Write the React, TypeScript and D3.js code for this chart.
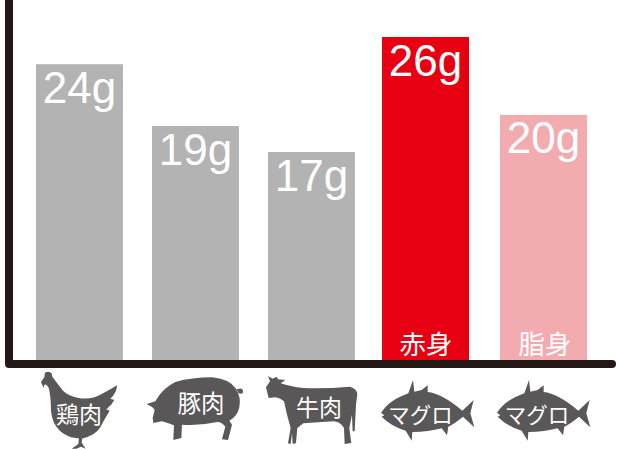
import React from "react";
import * as d3 from "d3";

const valueLabels = ["24g", "19g", "17g", "26g", "20g"];
const values = [24.0, 19.0, 16.9, 26.2, 19.9];
const colors = ["#b3b3b3", "#b3b3b3", "#b3b3b3", "#e60012", "#f2abae"];
const barLefts = [36, 152, 268, 382, 500];
const innerLabels = ["", "", "", "赤身", "脂身"];
const iconLabels = ["鶏肉", "豚肉", "牛肉", "マグロ", "マグロ"];
const iconLabelX = [79, 201, 319, 420.5, 537];
const iconLabelY = [423, 412, 416, 423, 423];
const iconLabelSize = [23, 23.5, 23, 21.5, 21.5];

const chicken = "M18,42 L28,28 L30,14 Q42,8 50,16 L52,26 Q64,42 84,68 Q100,84 130,90 Q170,96 200,78 Q228,64 246,52 Q246,74 226,92 L238,96 Q230,112 214,124 L224,128 Q210,150 196,178 Q180,204 140,212 Q100,212 76,190 Q52,168 48,130 Q48,90 42,62 Q36,48 28,50 L26,60 Z M132,210 L142,210 L140,224 L152,242 L138,236 L124,242 L110,242 L130,228 Z";
const pig = "M14,108 L40,100 Q62,60 100,42 Q150,28 210,28 Q260,32 282,62 Q298,88 292,118 Q286,146 262,158 L270,170 L258,216 L240,214 L250,176 Q240,162 226,162 Q170,174 120,170 L118,210 L94,216 L96,172 Q76,165 60,160 L34,165 L32,150 L38,125 Q30,115 14,108 Z M284,64 L292,62 A7,7 0 1 1 298,77 L290,76 Z";
const cow = "M18,58 L30,40 L24,24 L38,32 L50,26 L54,34 L76,36 L62,46 Q90,56 130,60 Q200,62 270,56 Q290,62 292,78 L288,110 L284,190 L278,190 L276,140 L268,180 L274,225 L254,228 L252,180 Q240,160 220,160 L130,166 L112,180 L108,225 L98,228 L96,195 L92,228 L84,226 L92,180 Q80,140 72,100 Q60,90 46,88 L26,90 Z";
const fish = "M18,128 Q40,95 80,78 L100,70 L114,30 L118,65 L140,60 L158,46 L158,66 Q200,70 262,122 L296,90 L286,130 L298,172 L264,140 Q240,160 220,170 L216,196 L200,175 Q160,186 112,186 L110,212 L92,182 Q50,170 20,140 L28,136 Z";

const y = d3.scaleLinear().domain([0, 26.2]).range([361, 37]);
const ICON = "#595757";
const CJK = "'Noto Sans CJK JP', sans-serif";

export default function App() {
  return (
    <svg width={619} height={449} style={{ position: "fixed", left: 0, top: 0 }}>
      <rect width={619} height={449} fill="#fff" />
      {values.map((v, i) => (
        <g key={i}>
          <rect x={barLefts[i]} y={y(v)} width={87} height={y(0) - y(v)} fill={colors[i]} />
          <text x={barLefts[i] + 43.5} y={y(v) + 38.5} textAnchor="middle" fill="#fff" fontSize={44}
            fontFamily="'Liberation Sans', Arial, sans-serif">{valueLabels[i]}</text>
          {innerLabels[i] && (
            <text x={barLefts[i] + (i === 4 ? 45 : 44)} y={354} textAnchor="middle" fill="#fff" fontSize={26.5} fontFamily={CJK}>{innerLabels[i]}</text>
          )}
        </g>
      ))}
      <path d="M9,0 V364 H612" fill="none" stroke="#231815" strokeWidth={8} strokeLinecap="round" strokeLinejoin="round" />
      <g fill={ICON}>
        <g transform="translate(35,368) scale(0.3333)"><path d={chicken} /></g>
        <g transform="translate(142,368) scale(0.3333)"><path d={pig} /></g>
        <g transform="translate(260,368) scale(0.3333)"><path d={cow} /></g>
        <g transform="translate(375,370) scale(0.3333)"><path d={fish} /></g>
        <g transform="translate(491,370) scale(0.3333)"><path d={fish} /></g>
      </g>
      {iconLabels.map((t, i) => (
        <text key={i} x={iconLabelX[i]} y={iconLabelY[i]} textAnchor="middle" fill="#fff"
          fontSize={iconLabelSize[i]} fontFamily={CJK}>{t}</text>
      ))}
    </svg>
  );
}
